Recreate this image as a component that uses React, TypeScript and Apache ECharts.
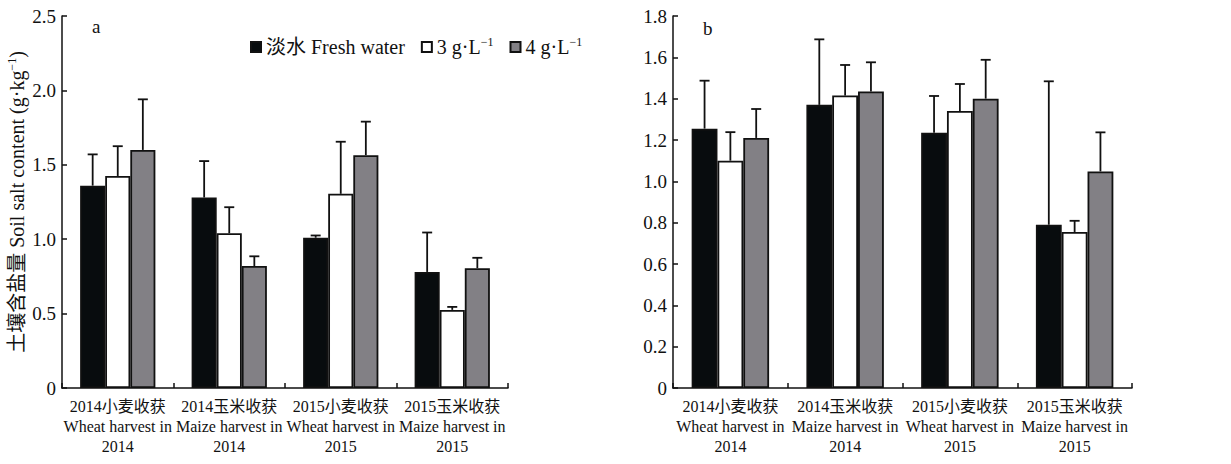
import React, { useEffect, useRef } from "react";
import * as echarts from "echarts";

const catCN = ["2014小麦收获", "2014玉米收获", "2015小麦收获", "2015玉米收获"];
const catEN = ["Wheat harvest in", "Maize harvest in", "Wheat harvest in", "Maize harvest in"];
const catYear = ["2014", "2014", "2015", "2015"];

const seriesNames = ["淡水 Fresh water", "3 g·L-1", "4 g·L-1"];

const aFresh = [1.36, 1.28, 1.01, 0.78];
const aFreshSD = [0.21, 0.245, 0.015, 0.265];
const a3 = [1.425, 1.04, 1.305, 0.525];
const a3SD = [0.2, 0.175, 0.35, 0.02];
const a4 = [1.6, 0.82, 1.565, 0.805];
const a4SD = [0.34, 0.065, 0.225, 0.07];

const bFresh = [1.255, 1.37, 1.235, 0.79];
const bFreshSD = [0.232, 0.317, 0.178, 0.694];
const b3 = [1.1, 1.415, 1.34, 0.755];
const b3SD = [0.138, 0.148, 0.131, 0.054];
const b4 = [1.21, 1.435, 1.4, 1.048];
const b4SD = [0.14, 0.141, 0.188, 0.189];

const aTicks = { max: 2.5, interval: 0.5 };
const bTicks = { max: 1.8, interval: 0.2 };

const FONT = "'Liberation Serif', 'Times New Roman', 'Noto Sans CJK SC', serif";
const colors = ["#080c0e", "#ffffff", "#828085"];
const BAR_FRAC = 0.225;

export default function App() {
  const ref = useRef<HTMLDivElement>(null);
  useEffect(() => {
    if (!ref.current) return;
    const chart = echarts.init(ref.current, undefined, { renderer: "svg" });
    const labels = catCN.map((c, i) => `${c}\n${catEN[i]}\n${catYear[i]}`);

    const xAxisBase = (gi: number) => ({
      type: "category",
      gridIndex: gi,
      data: labels,
      axisLine: { lineStyle: { color: "#111", width: 1.5 } },
      axisTick: { show: true, inside: true, length: 5, lineStyle: { color: "#111", width: 1.5 } },
      axisLabel: { color: "#111", fontFamily: FONT, fontSize: 16, lineHeight: 20, margin: 8, interval: 0 },
    });
    const yAxisBase = (gi: number, t: { max: number; interval: number }) => ({
      type: "value",
      gridIndex: gi,
      min: 0,
      max: t.max,
      interval: t.interval,
      splitLine: { show: false },
      axisLine: { show: true, lineStyle: { color: "#111", width: 1.5 } },
      axisTick: { show: true, inside: true, length: 5, lineStyle: { color: "#111", width: 1.5 } },
      axisLabel: {
        color: "#111",
        fontFamily: FONT,
        fontSize: 19,
        margin: 6,
        formatter: (v: number) => (v === 0 ? "0" : v.toFixed(1)),
      },
    });

    const panels = [
      { vals: [aFresh, a3, a4], sds: [aFreshSD, a3SD, a4SD] },
      { vals: [bFresh, b3, b4], sds: [bFreshSD, b3SD, b4SD] },
    ];

    const series: any[] = [];
    panels.forEach((p, gi) => {
      p.vals.forEach((vals, k) => {
        series.push({
          type: "bar",
          name: seriesNames[k],
          xAxisIndex: gi,
          yAxisIndex: gi,
          data: vals,
          barWidth: BAR_FRAC * 100 + "%",
          barGap: "0%",
          itemStyle: { color: colors[k], borderColor: "#111", borderWidth: 1.8 },
          z: 2,
        });
      });
      p.vals.forEach((vals, k) => {
        series.push({
          type: "custom",
          name: "err" + gi + k,
          xAxisIndex: gi,
          yAxisIndex: gi,
          z: 3,
          encode: { x: 0, y: 1 },
          data: vals.map((v, i) => [i, v + p.sds[k][i], v]),
          renderItem: (params: any, api: any) => {
            const i = api.value(0);
            const hi = api.value(1);
            const v = api.value(2);
            const top = api.coord([i, hi]);
            const base = api.coord([i, v]);
            const band = api.size([1, 0])[0];
            const x = top[0] + (k - 1) * band * BAR_FRAC;
            const st = { stroke: "#111", lineWidth: 1.8 };
            return {
              type: "group",
              children: [
                { type: "line", shape: { x1: x, y1: base[1], x2: x, y2: top[1] }, style: st },
                { type: "line", shape: { x1: x - 5, y1: top[1], x2: x + 5, y2: top[1] }, style: st },
              ],
            };
          },
        });
      });
    });

    const legendFormatter = (name: string) => {
      if (name.endsWith("-1")) {
        return `{t|${name.slice(0, -2)}}{s|−1}`;
      }
      return `{t|${name}}`;
    };

    const richT = { fontFamily: FONT, fontSize: 20, color: "#111", lineHeight: 22 };
    const richS = { fontFamily: FONT, fontSize: 12, color: "#111", verticalAlign: "top", lineHeight: 22 };

    chart.setOption({
      animation: false,
      backgroundColor: "#ffffff",
      grid: [
        { left: 62, right: 1231 - 508, top: 16, bottom: 76 },
        { left: 673, right: 1231 - 1132, top: 16, bottom: 76 },
      ],
      xAxis: [xAxisBase(0), xAxisBase(1)],
      yAxis: [
        {
          ...yAxisBase(0, aTicks),
          name: "{t|土壤含盐量 Soil salt content (g·kg}{s|−1}{t|)}",
          nameLocation: "middle",
          nameGap: 34,
          nameRotate: 90,
          nameTextStyle: {
            color: "#111",
            fontFamily: FONT,
            fontSize: 20,
            rich: { t: richT, s: richS },
          },
        },
        yAxisBase(1, bTicks),
      ],
      legend: {
        data: seriesNames,
        left: 245,
        top: 31,
        itemWidth: 10,
        itemHeight: 10,
        itemGap: 16,
        icon: "rect",
        formatter: legendFormatter,
        textStyle: {
          color: "#111",
          fontFamily: FONT,
          fontSize: 20,
          rich: { t: richT, s: richS },
        },
      },
      graphic: [
        { type: "text", left: 92, top: 17, style: { text: "a", fontFamily: FONT, fontSize: 19, fill: "#111" } },
        { type: "text", left: 703, top: 19, style: { text: "b", fontFamily: FONT, fontSize: 19, fill: "#111" } },
      ],
      series,
    });
    return () => chart.dispose();
  }, []);
  return (
    <div
      ref={ref}
      style={{ position: "fixed", left: 0, top: 0, width: 1231, height: 464, background: "#fff" }}
    />
  );
}
